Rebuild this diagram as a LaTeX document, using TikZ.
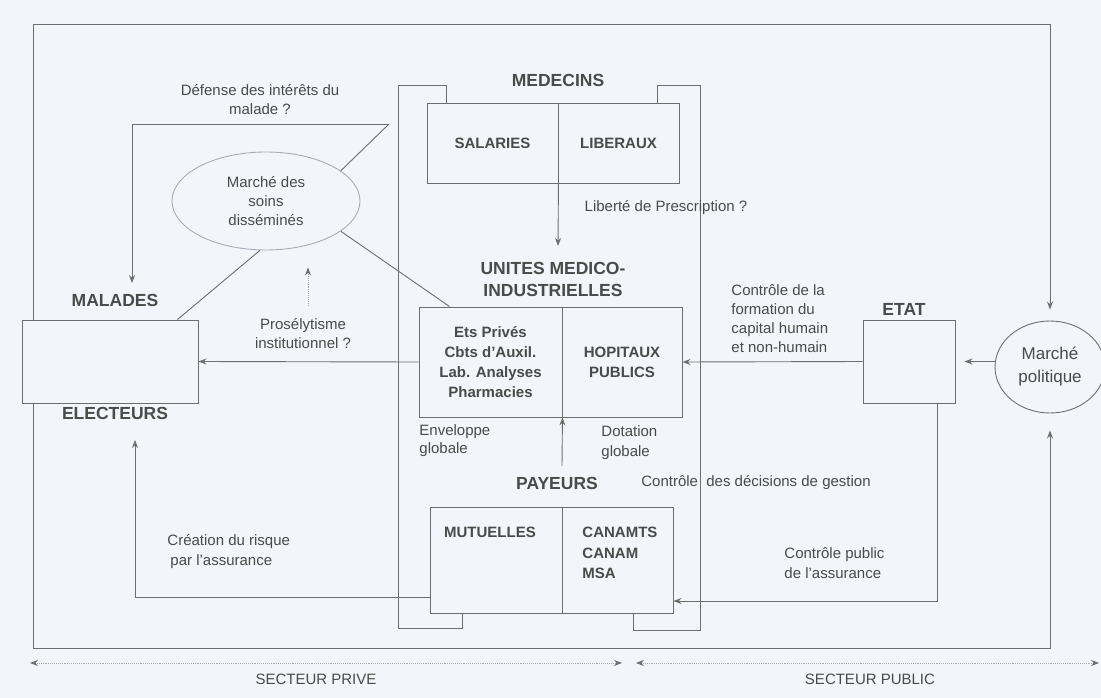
\documentclass[tikz,border=0pt]{standalone}
\usepackage{fontspec}
\setmainfont{Liberation Sans}
\usetikzlibrary{arrows.meta,shapes.geometric}
\definecolor{bg}{HTML}{F3F5FA}
\definecolor{lncol}{HTML}{6E6E6E}
\definecolor{tx}{HTML}{4A4A4A}
\definecolor{lt}{HTML}{A8ACB6}
\begin{document}
\begin{tikzpicture}[x=1pt,y=-1pt, line width=0.9pt,
  every node/.style={text=tx},
  box/.style={draw=lncol, fill=bg, inner sep=0pt, font=\fontsize{15}{20}\selectfont\bfseries, align=center},
  boxtxt/.style={inner sep=1pt, font=\fontsize{15}{20.5}\selectfont\bfseries, align=left},
  lbl/.style={font=\fontsize{15}{19}\selectfont, align=left, inner sep=1pt},
  lblc/.style={font=\fontsize{15}{19}\selectfont, align=center, inner sep=1pt},
  ttl/.style={font=\fontsize{17.5}{22}\selectfont\bfseries, align=center, inner sep=1pt},
  wire/.style={draw=lncol},
  arr/.style={draw=lncol, -{Stealth[length=8pt,width=6pt]}},
  dotarr/.style={draw=lt, densely dotted, -{Stealth[length=8pt,width=6pt,color=lncol]}},
  secarr/.style={draw=lt, densely dotted, {Stealth[length=8pt,width=6pt,color=lncol]}-{Stealth[length=8pt,width=6pt,color=lncol]}},
]
\fill[bg] (0,0) rectangle (1101,698);
\useasboundingbox (0,0) rectangle (1101,698);

% ellipse: political market
\node[ellipse, draw=lncol, fill=bg, minimum width=110pt, minimum height=92pt, inner sep=0pt,
      font=\fontsize{17}{23}\selectfont, align=center] (mp) at (1050,367) {Marché\\politique};

% outer frame
\coordinate (fTL) at (33,24);
\coordinate (fTR) at (1050,24);
\coordinate (fBL) at (33,648);
\coordinate (fBR) at (1050,648);
\draw[arr, shorten >=11pt] (fBL) -- (fTL) -- (fTR) -- (mp.north);
\draw[arr, shorten >=17pt] (fBL) -- (fBR) -- (mp.south);

% boxes
\node[box, minimum width=131pt, minimum height=80pt] (medL) at (492.5,143) {SALARIES};
\node[box, minimum width=121pt, minimum height=80pt] (medR) at (618.5,143) {LIBERAUX};
\node[box, minimum width=143pt, minimum height=110pt] (umiL) at (490.5,362) {Ets Privés\\Cbts d'Auxil.\\Lab. Analyses\\Pharmacies};
\node[box, minimum width=120pt, minimum height=110pt] (umiR) at (622,362) {HOPITAUX\\PUBLICS};
\node[box, minimum width=132pt, minimum height=106pt] (payL) at (496,560) {};
\node[box, minimum width=111pt, minimum height=106pt] (payR) at (617.5,560) {};
\node[boxtxt, anchor=north] (mut) at (490,526) {MUTUELLES};
\node[boxtxt, anchor=north west] (can) at (581,526) {CANAMTS\\CANAM\\MSA};
\node[box, minimum width=176pt, minimum height=83pt] (mal) at (110,361.5) {};
\node[box, minimum width=92pt, minimum height=83pt] (etat) at (909,361.5) {};

% brackets around the medical system
\draw[wire] ([xshift=20pt]medL.north west) |- (398,85) -- (398,628) -| ([xshift=33pt]payL.south west);
\draw[wire] ([xshift=-22pt]medR.north east) |- (700,85) -- (700,630) -| ([xshift=-40pt]payR.south east);

% titles
\node[ttl] (medT) at (558,80) {MEDECINS};
\node[ttl] (umiT) at (553,279) {UNITES MEDICO-\\INDUSTRIELLES};
\node[ttl] (payT) at (557,483) {PAYEURS};
\node[ttl] (malT) at (115,300) {MALADES};
\node[ttl] (elec) at (115,413) {ELECTEURS};
\node[ttl] (etatT) at (904,309) {ETAT};

% ellipse: care market
\node[ellipse, draw=lt, fill=bg, minimum width=188pt, minimum height=98pt, inner sep=0pt,
      font=\fontsize{15}{19}\selectfont, align=center] (soins) at (266,201) {Marché des\\soins\\disséminés};

% labels
\node[lblc] (def) at (260,100) {Défense des intérêts du\\malade ?};
\node[lbl] (lib) at (666,208) {Liberté de Prescription ?};
\node[lblc] (pros) at (303,334) {Prosélytisme\\institutionnel ?};
\node[lbl, anchor=west] (cform) at (730,319) {Contrôle de la\\formation du\\capital humain\\et non-humain};
\node[lbl, anchor=west, font=\fontsize{15}{18}\selectfont] (cenv) at (418,441) {Enveloppe\\globale};
\node[lbl, anchor=west, font=\fontsize{15}{20}\selectfont] (cdot) at (600,443) {Dotation\\globale};
\node[lbl] (cdec) at (756,483) {Contrôle\ \ des décisions de gestion};
\node[lbl, anchor=west, font=\fontsize{15}{20}\selectfont] (cpub) at (783,563) {Contrôle public\\de l'assurance};
\node[lbl, anchor=west, font=\fontsize{15}{20}\selectfont] (crea) at (166,552) {Création du risque\\\hspace{3pt}par l'assurance};
\node[lblc] (sprive) at (316,679) {SECTEUR PRIVE};
\node[lblc] (spub) at (870,679) {SECTEUR PUBLIC};

% connectors
\coordinate (dj) at (389,124);
\coordinate (malIn) at (132,283);
\coordinate (medArr) at (558,246);
\coordinate (payUp) at (562,466);
\coordinate (elecIn) at (135,440);
\draw[arr] (dj) -| (malIn);
\draw[wire] (soins.22) -- (dj);
\draw[wire] (soins.-22) -- ([xshift=31pt]umiL.north west);
\draw[wire] ([xshift=-21pt]mal.north east) -- (soins.-97);
\draw[dotarr] ([xshift=5pt,yshift=12pt]pros.north) -- ([xshift=5pt,yshift=50pt]pros.north);
\draw[arr] (umiL.west) -- (mal.east);
\draw[arr] (medL.south east) -- (medArr);
\draw[arr] (payUp) -- (umiL.south east);
\draw[arr] (etat.west) -- (umiR.east);
\draw[arr, shorten >=9pt] (mp.west |- etat.east) -- (etat.east);
\draw[arr] ([xshift=-18pt]etat.south east) |- ([yshift=-41pt]payR.east);
\draw[arr] ([yshift=-37pt]payL.west) -| (elecIn);

% sector arrows
\coordinate (sp1) at (30,663);
\coordinate (sp2) at (622,663);
\coordinate (su1) at (636,663);
\coordinate (su2) at (1099,663);
\draw[secarr] (sp1) -- (sp2);
\draw[secarr] (su1) -- (su2);
\end{tikzpicture}
\end{document}
